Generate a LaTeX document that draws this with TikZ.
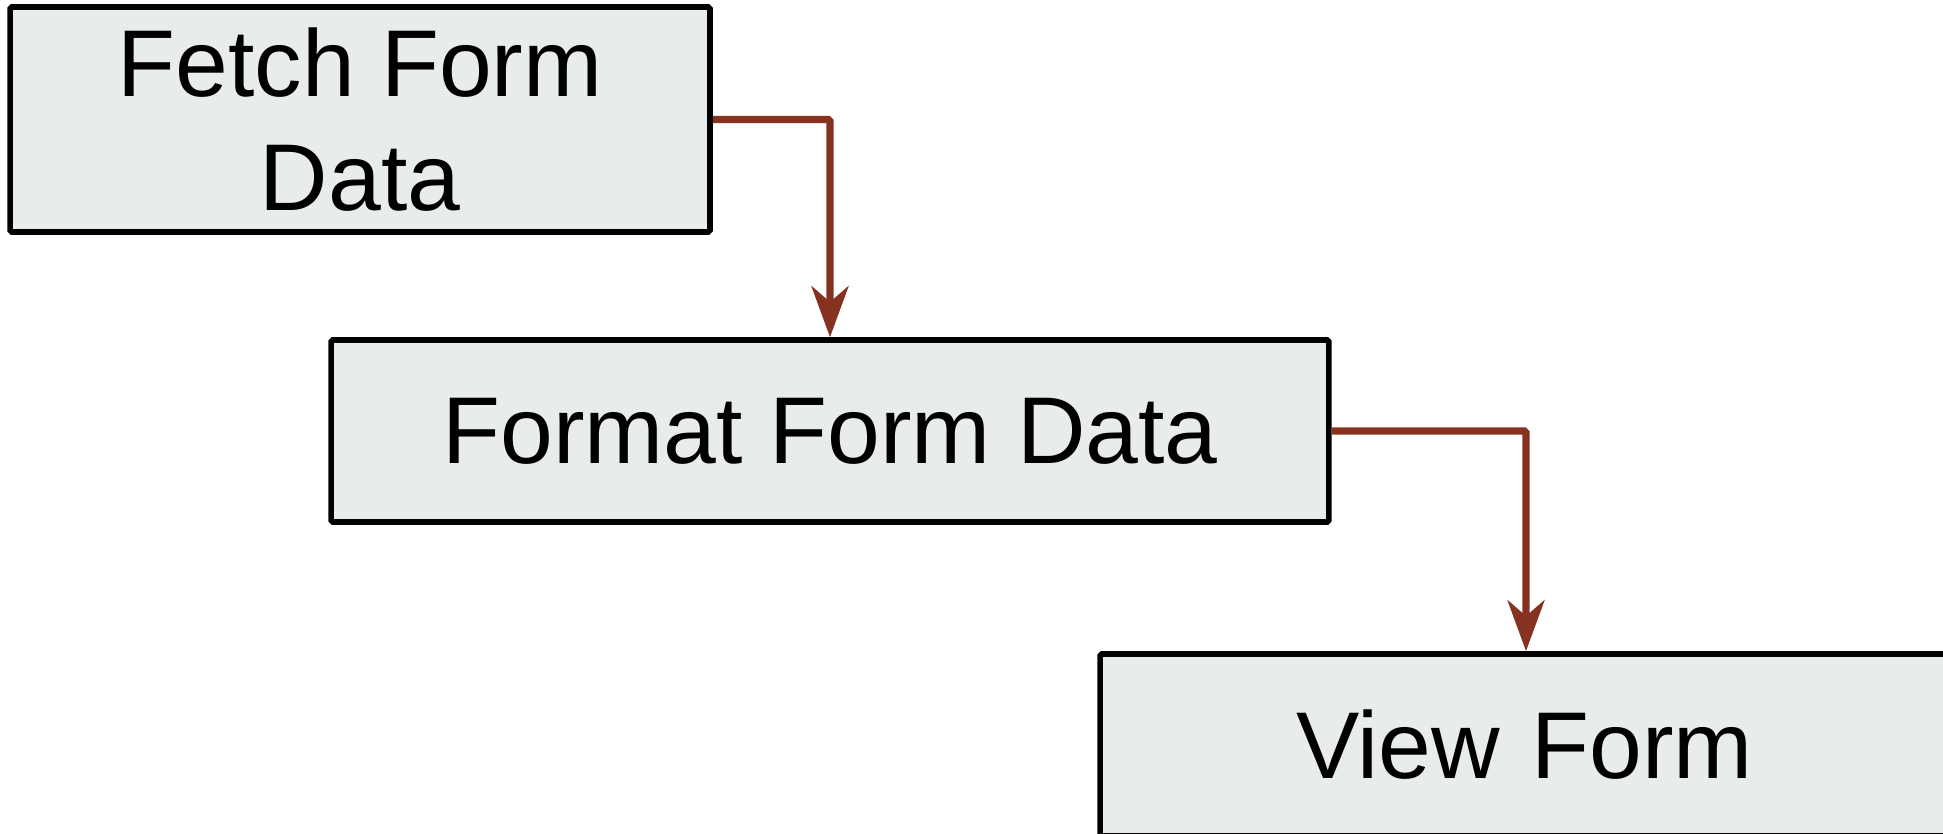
\documentclass[tikz,border=0pt]{standalone}
\usepackage{fontspec}
\setmainfont{Liberation Sans}
\usetikzlibrary{
  arrows.meta,
  positioning,
}
\definecolor{stepfill}{RGB}{232,236,237}
\definecolor{flowcol}{RGB}{134,50,33}
\tikzset{
  stepbox/.style={
    rectangle, draw=black, fill=stepfill, line width=3.2pt,
    rounded corners=1pt, inner sep=0pt, align=center,
    font=\fontsize{54}{65}\selectfont
  },
  flowarrow/.style={
    line width=4.2pt, draw=flowcol, rounded corners=1pt,
    -{Stealth[length=29pt, width=21pt, inset=9pt, fill=flowcol]}
  },
}
\begin{document}
\begin{tikzpicture}[x=0.02cm, y=0.02cm]

  \useasboundingbox (0,0) rectangle (1943,833);

  % ── Nodes ──
  \node[stepbox, minimum width=14cm, minimum height=4.5cm] (fetch) at (360, 713.5)
    {Fetch Form\\Data};
  \node[stepbox, minimum width=19.96cm, minimum height=3.64cm] (format) at (830, 402)
    {Format Form Data};
  \node[stepbox, minimum width=17cm, minimum height=3.64cm, text width=9.2cm,
        align=left, inner xsep=3.92cm] (view) at (1526, 88)
    {View Form};

  % ── Edges ──
  \draw[flowarrow] (fetch.east) -| (format.north);
  \draw[flowarrow] (format.east) -| (view.north);

\end{tikzpicture}
\end{document}
